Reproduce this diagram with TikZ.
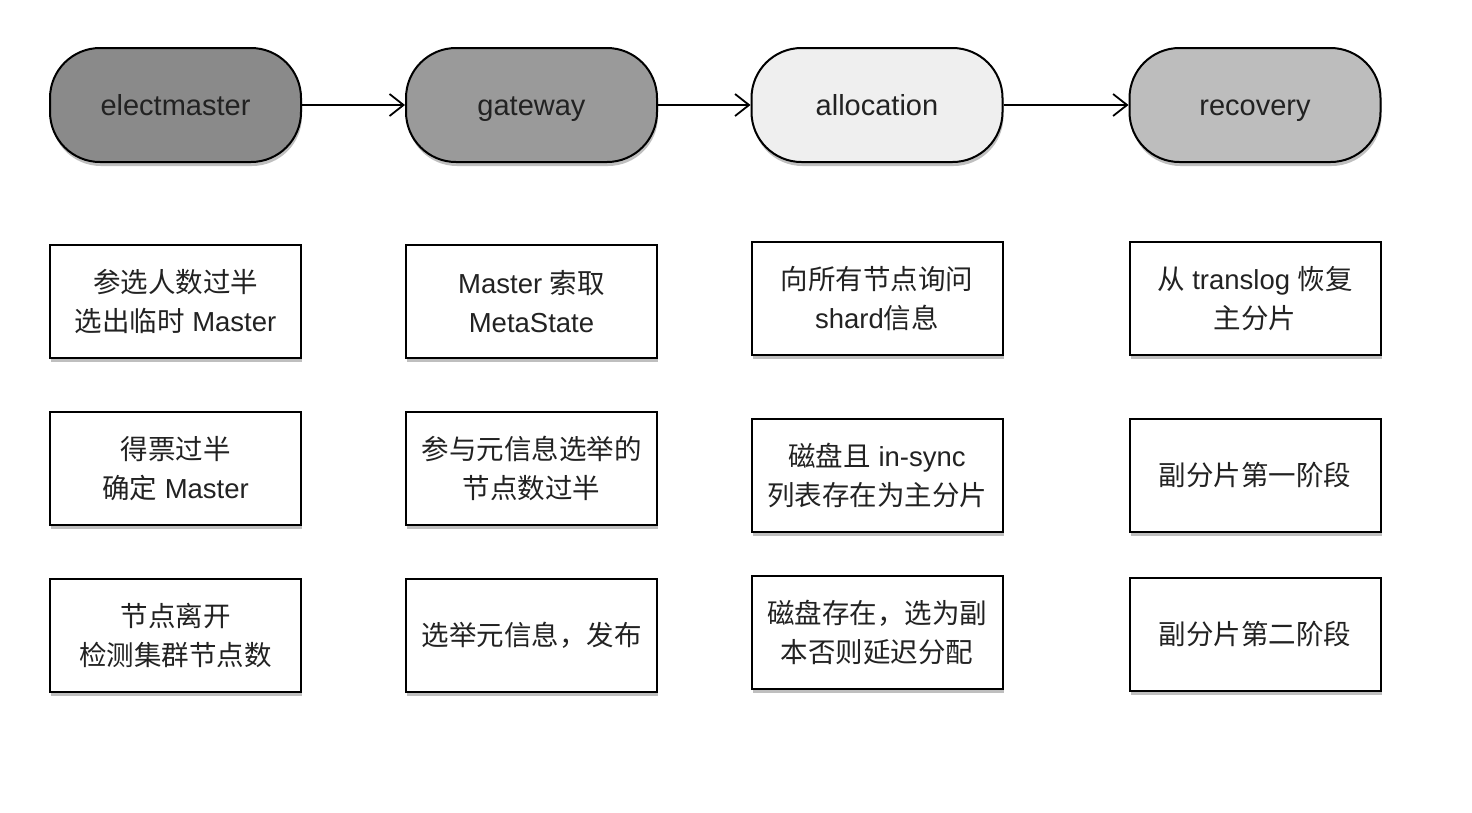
\documentclass[tikz,border=0pt]{standalone}
\usepackage{fontspec}
\setmainfont{Liberation Sans}
\newfontfamily\cjk{Noto Sans CJK SC}
\usetikzlibrary{arrows.meta,shadows}
\definecolor{cElect}{HTML}{8A8A8A}
\definecolor{cGate}{HTML}{9A9A9A}
\definecolor{cAlloc}{HTML}{EFEFEF}
\definecolor{cRecov}{HTML}{BDBDBD}
\definecolor{txt}{HTML}{222222}
\begin{document}
\begin{tikzpicture}[x=1pt,y=-1pt,
  shadowed/.style={drop shadow={opacity=0.5,shadow xshift=1pt,shadow yshift=-4pt}},
  pill/.style={draw=black,line width=2pt,rounded corners=50pt,minimum width=251pt,minimum height=114pt,
    font=\fontsize{29}{33}\selectfont,text=txt,shadowed,text height=23pt,text depth=3pt},
  infobox/.style={draw=black,line width=2pt,fill=white,minimum width=251pt,minimum height=113pt,
    align=center,font=\fontsize{27.5}{39}\selectfont,text=txt,shadowed,inner sep=2pt},
  flow/.style={line width=1.8pt,-{Straight Barb[length=14pt,width=22pt,line width=1.8pt]}}
]
\useasboundingbox (0,0) rectangle (1472,812);
\fill[white] (0,0) rectangle (1472,812);

\node[pill,fill=cElect] (em) at (175.5,105) {electmaster};
\node[pill,fill=cGate] (gw) at (531.5,105) {gateway};
\node[pill,fill=cAlloc] (al) at (877,105) {allocation};
\node[pill,fill=cRecov] (rc) at (1255,105) {recovery};

\draw[flow] (em) -- (gw);
\draw[flow] (gw) -- (al);
\draw[flow] (al) -- (rc);

\node[infobox] (e1) at (175.5,301.5) {{\cjk 参选人数过半}\\{\cjk 选出临时} Master};
\node[infobox] (e2) at (175.5,468.5) {{\cjk 得票过半}\\{\cjk 确定} Master};
\node[infobox] (e3) at (175.5,635.5) {{\cjk 节点离开}\\{\cjk 检测集群节点数}};

\node[infobox] (g1) at (531.5,301.5) {Master {\cjk 索取}\\MetaState};
\node[infobox] (g2) at (531.5,468.5) {{\cjk 参与元信息选举的}\\{\cjk 节点数过半}};
\node[infobox] (g3) at (531.5,635.5) {{\cjk 选举元信息，发布}};

\node[infobox] (a1) at (877,298.5) {{\cjk 向所有节点询问}\\shard{\cjk 信息}};
\node[infobox] (a2) at (877,475.5) {{\cjk 磁盘且} in-sync\\{\cjk 列表存在为主分片}};
\node[infobox] (a3) at (877,632.5) {{\cjk 磁盘存在，选为副}\\{\cjk 本否则延迟分配}};

\node[infobox] (r1) at (1255,298.5) {{\cjk 从} translog {\cjk 恢复}\\{\cjk 主分片}};
\node[infobox] (r2) at (1255,475.5) {{\cjk 副分片第一阶段}};
\node[infobox] (r3) at (1255,634.5) {{\cjk 副分片第二阶段}};
\end{tikzpicture}
\end{document}
